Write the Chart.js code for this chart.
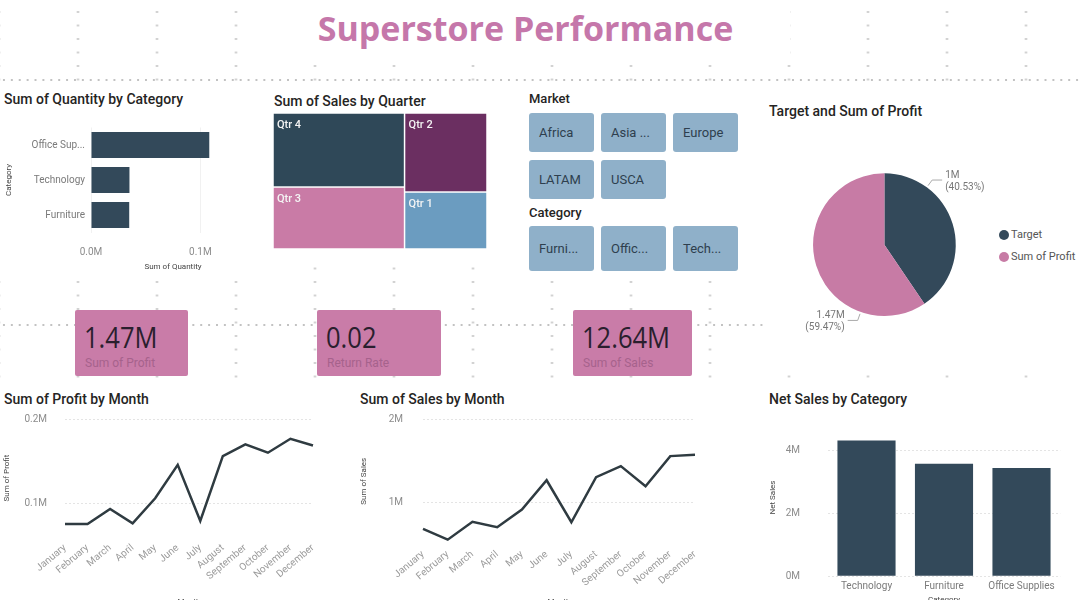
<!DOCTYPE html>
<html>
<head>
<meta charset="utf-8">
<script src="https://cdn.jsdelivr.net/npm/chart.js@4.4.1/dist/chart.umd.min.js"></script>
<style>
  html, body { margin: 0; padding: 0; }
  body { width: 1080px; height: 600px; overflow: hidden; position: relative; background: #fff; font-family: Roboto, sans-serif; }
  .dots { position: absolute; left: 0; top: 0; width: 1080px; height: 600px;
    background-image: radial-gradient(circle, #c2c2c2 0.8px, transparent 1.4px);
    background-size: 79px 13.5px; background-position: 38.5px 5.25px; }
  .dotrow { position: absolute; left: 0; width: 1080px; height: 6px;
    background-image: radial-gradient(circle, #c2c2c2 0.8px, transparent 1.4px);
    background-size: 7.9px 6px; }
  .panel { position: absolute; background: #fff; }
  .label { position: absolute; white-space: nowrap; }
  .vtitle { font-size: 14px; font-weight: 500; color: #252423; height: 18px; line-height: 18px; }
  .slicer { position: absolute; background: #8fb0c9; border-radius: 3px; color: #2e3f4e; font-size: 13px;
    box-sizing: border-box; padding: 0 0 0 10px; overflow: hidden; white-space: nowrap; }
  .card { position: absolute; background: #c97ca8; border-radius: 2px; }
  .card .val { position: absolute; left: 9px; top: 9px; font-family: 'Open Sans', sans-serif; font-size: 29px; color: #2a1f2e;
    line-height: 36px; transform: scaleX(0.88); transform-origin: left center; }
  .card .sub { position: absolute; left: 10px; top: 45px; font-size: 12px; color: #a6628c; line-height: 16px; }
  canvas { position: absolute; }
  .legdot { position: absolute; width: 10px; height: 10px; border-radius: 50%; }
</style>
</head>
<body>
<div class="dots"></div>
<div class="dotrow" style="top:77px"></div>
<div class="dotrow" style="top:322px"></div>

<div class="panel" style="left:250px;top:0;width:540px;height:60px"></div>
<div class="panel" style="left:0;top:86px;width:258px;height:192px"></div>
<div class="panel" style="left:265px;top:86px;width:228px;height:170px"></div>
<div class="panel" style="left:522px;top:86px;width:222px;height:192px"></div>
<div class="panel" style="left:768px;top:86px;width:312px;height:286px"></div>
<div class="panel" style="left:0;top:388px;width:325px;height:212px"></div>
<div class="panel" style="left:352px;top:388px;width:368px;height:212px"></div>
<div class="panel" style="left:768px;top:388px;width:312px;height:212px"></div>

<div class="label" style="left:0;top:8px;width:1051px;text-align:center;font-family:'Open Sans',sans-serif;font-weight:700;font-size:34px;line-height:40px;color:#c577aa">Superstore Performance</div>

<div class="label vtitle" style="left:4px;top:90px">Sum of Quantity by Category</div>
<div class="label vtitle" style="left:274px;top:92px">Sum of Sales by Quarter</div>
<div class="label vtitle" style="left:529px;top:90px;font-size:13px">Market</div>
<div class="label vtitle" style="left:529px;top:204px;font-size:13px">Category</div>
<div class="label vtitle" style="left:769px;top:102px">Target and Sum of Profit</div>
<div class="label vtitle" style="left:4px;top:390px">Sum of Profit by Month</div>
<div class="label vtitle" style="left:360px;top:390px">Sum of Sales by Month</div>
<div class="label vtitle" style="left:769px;top:390px">Net Sales by Category</div>

<div id="slicers"></div>
<div id="cards"></div>
<div id="pieLegend"></div>

<canvas id="qtyChart" width="260" height="165" style="left:0;top:115px"></canvas>
<canvas id="quarterChart" width="214" height="136" style="left:273px;top:113px"></canvas>
<canvas id="pieChart" width="240" height="210" style="left:764px;top:140px"></canvas>
<canvas id="profitChart" width="330" height="215" style="left:0;top:395px"></canvas>
<canvas id="salesChart" width="380" height="217" style="left:340px;top:393px"></canvas>
<canvas id="netChart" width="315" height="225" style="left:765px;top:385px"></canvas>

<script>
// DATA
const qtyCategories = ['Office Supplies', 'Technology', 'Furniture'];
const qtyValues = [108182, 35176, 34954];

const quarterLabels = ['Qtr 4', 'Qtr 3', 'Qtr 2', 'Qtr 1'];
const quarterSales = [4230000, 3540000, 2830000, 2040000];

const marketNames = ['Africa', 'Asia Pacific', 'Europe', 'LATAM', 'USCA'];
const categoryNames = ['Furniture', 'Office Supplies', 'Technology'];

const pieLabels = ['Target', 'Sum of Profit'];
const pieValues = [1000000, 1467457];

const kpiValues = ['1.47M', '0.02', '12.64M'];
const kpiLabels = ['Sum of Profit', 'Return Rate', 'Sum of Sales'];

const months = ['January', 'February', 'March', 'April', 'May', 'June', 'July',
  'August', 'September', 'October', 'November', 'December'];
const profitByMonth = [75400, 75400, 93200, 76200, 106000, 145600, 79000, 156000, 170000, 160000, 176500, 168600];
const salesByMonth = [676000, 546000, 761000, 696000, 910000, 1262000, 756000, 1300000, 1432000, 1190000, 1553000, 1569000];

const netCategories = ['Technology', 'Furniture', 'Office Supplies'];
const netSales = [4310000, 3570000, 3440000];

// COLORS
const DARK = '#33495a';
const PINK = '#c77ba5';
const LINE = '#2f3b41';
const quarterColors = ['#2f4858', '#c97ba6', '#6b2f61', '#6b9cc0'];
const GRID = '#e4e4e4';

Chart.defaults.font.family = 'Roboto, sans-serif';
Chart.defaults.color = '#8c8c8c';
Chart.defaults.animation = false;

// slicer buttons truncate like Power BI does
const measureCtx = document.createElement('canvas').getContext('2d');
measureCtx.font = '13px Roboto';
function fitText(t, maxW) {
  if (measureCtx.measureText(t).width <= maxW) return t;
  let s = t;
  while (s.length && measureCtx.measureText(s + '...').width > maxW) s = s.slice(0, -1);
  return s + '...';
}

const slicerBox = document.getElementById('slicers');
const slicerX = [529, 601, 673];
function addSlicer(text, left, top, h) {
  const d = document.createElement('div');
  d.className = 'slicer';
  d.textContent = fitText(text, 42);
  Object.assign(d.style, { left: left + 'px', top: top + 'px', width: '65px', height: h + 'px', lineHeight: h + 'px' });
  slicerBox.appendChild(d);
}
marketNames.forEach((m, i) => addSlicer(m, slicerX[i % 3], i < 3 ? 113 : 160, 39));
categoryNames.forEach((c, i) => addSlicer(c, slicerX[i], 226, 45));

const cardBox = document.getElementById('cards');
const cardPos = [[75, 113], [317, 124], [573, 119]];
kpiValues.forEach((v, i) => {
  const d = document.createElement('div');
  d.className = 'card';
  Object.assign(d.style, { left: cardPos[i][0] + 'px', top: '310px', width: cardPos[i][1] + 'px', height: '66px' });
  d.innerHTML = '<div class="val"></div><div class="sub"></div>';
  d.querySelector('.val').textContent = v;
  d.querySelector('.sub').textContent = kpiLabels[i];
  cardBox.appendChild(d);
});

const legBox = document.getElementById('pieLegend');
[DARK, PINK].forEach((c, i) => {
  const dot = document.createElement('div');
  dot.className = 'legdot';
  Object.assign(dot.style, { left: '999px', top: (230 + i * 22) + 'px', background: c });
  legBox.appendChild(dot);
  const t = document.createElement('div');
  t.className = 'label';
  t.textContent = pieLabels[i];
  Object.assign(t.style, { left: '1011px', top: (228 + i * 22) + 'px', fontSize: '11px', color: '#555', lineHeight: '14px' });
  legBox.appendChild(t);
});

// helpers
const fmtM = v => (Math.round(v / 1e6 * 100) / 100) + 'M';
const fixTicks = vals => scale => { scale.ticks = vals.map(v => ({ value: v })); };
const dashedGrid = { color: GRID, lineWidth: 1, drawTicks: false };
const axisTitleFont = { size: 8 };
const tickFont = { size: 10 };

// QUANTITY BY CATEGORY
new Chart(document.getElementById('qtyChart'), {
  type: 'bar',
  data: {
    labels: qtyCategories,
    datasets: [{ data: qtyValues, backgroundColor: DARK, barPercentage: 0.74, categoryPercentage: 1 }]
  },
  options: {
    indexAxis: 'y',
    responsive: false,
    layout: { padding: { top: 12.5, right: 5, left: 0, bottom: 0 } },
    plugins: { legend: { display: false }, tooltip: { enabled: false } },
    scales: {
      x: {
        min: 0, max: 150000,
        grid: { color: '#f1f1f1', drawTicks: false }, border: { display: false },
        afterBuildTicks: fixTicks([0, 100000]),
        ticks: { padding: 14, font: tickFont, callback: v => (v / 1e6).toFixed(1) + 'M' },
        title: { display: true, text: 'Sum of Quantity', color: '#444', font: axisTitleFont, padding: { top: 0, bottom: 8 } },
        afterFit: s => { s.height = 47.5; }
      },
      y: {
        grid: { display: false, drawTicks: false }, border: { display: false },
        ticks: { padding: 6, font: tickFont, color: '#7a7a7a',
          callback: function (v) { const l = this.getLabelForValue(v); return l.length > 12 ? l.slice(0, 10) + '...' : l; } },
        title: { display: true, text: 'Category', color: '#444', font: axisTitleFont, padding: { top: 4, bottom: 0 } },
        afterFit: s => { s.width = 91; }
      }
    }
  }
});

// SALES BY QUARTER (treemap cells laid out on linear 0..1 scales)
const treemapPlugin = {
  id: 'treemapCells',
  afterDatasetsDraw(chart) {
    const { ctx, scales: { x, y } } = chart;
    const total = quarterSales.reduce((a, b) => a + b, 0);
    let x0 = 0;
    ctx.save();
    for (let i = 0; i < quarterSales.length; i += 2) {
      const group = quarterSales.slice(i, i + 2);
      const gsum = group.reduce((a, b) => a + b, 0);
      const x1 = x0 + gsum / total;
      let y0 = 0;
      group.forEach((v, j) => {
        const y1 = y0 + v / gsum;
        const px0 = x.getPixelForValue(x0), px1 = x.getPixelForValue(x1);
        const py0 = y.getPixelForValue(y0), py1 = y.getPixelForValue(y1);
        ctx.fillStyle = quarterColors[i + j];
        ctx.fillRect(px0 + 0.75, py0 + 0.75, px1 - px0 - 1.5, py1 - py0 - 1.5);
        ctx.fillStyle = '#f4f4f4';
        ctx.font = '500 11px Roboto, sans-serif';
        ctx.textBaseline = 'middle';
        ctx.fillText(quarterLabels[i + j], px0 + 4, py0 + 12.5);
        y0 = y1;
      });
      x0 = x1;
    }
    ctx.restore();
  }
};
new Chart(document.getElementById('quarterChart'), {
  type: 'scatter',
  data: { datasets: [{ data: [] }] },
  options: {
    responsive: false,
    layout: { padding: 0 },
    plugins: { legend: { display: false }, tooltip: { enabled: false } },
    scales: {
      x: { type: 'linear', min: 0, max: 1, display: false },
      y: { type: 'linear', min: 0, max: 1, reverse: true, display: false }
    }
  },
  plugins: [treemapPlugin]
});

// TARGET AND SUM OF PROFIT
const pieLabelPlugin = {
  id: 'pieLabels',
  afterDatasetsDraw(chart) {
    const ctx = chart.ctx;
    const meta = chart.getDatasetMeta(0);
    const data = chart.data.datasets[0].data;
    const total = data.reduce((a, b) => a + b, 0);
    ctx.save();
    meta.data.forEach((arc, i) => {
      const { x, y, startAngle, endAngle, outerRadius } = arc.getProps(['x', 'y', 'startAngle', 'endAngle', 'outerRadius'], true);
      const a = startAngle + (endAngle - startAngle) * 0.25;
      const p1x = x + Math.cos(a) * (outerRadius + 2), p1y = y + Math.sin(a) * (outerRadius + 2);
      const p2x = x + Math.cos(a) * (outerRadius + 9), p2y = y + Math.sin(a) * (outerRadius + 9);
      const dir = Math.cos(a) >= 0 ? 1 : -1;
      const p3x = p2x + dir * 10;
      ctx.strokeStyle = '#aaa';
      ctx.lineWidth = 1;
      ctx.beginPath();
      ctx.moveTo(p1x, p1y); ctx.lineTo(p2x, p2y); ctx.lineTo(p3x, p2y);
      ctx.stroke();
      ctx.fillStyle = '#777';
      ctx.font = '10px Roboto, sans-serif';
      ctx.textAlign = dir > 0 ? 'left' : 'right';
      ctx.textBaseline = 'middle';
      ctx.fillText(fmtM(data[i]), p3x + dir * 3, p2y - 5);
      ctx.fillText('(' + (data[i] / total * 100).toFixed(2) + '%)', p3x + dir * 3, p2y + 7);
    });
    ctx.restore();
  }
};
new Chart(document.getElementById('pieChart'), {
  type: 'pie',
  data: { labels: pieLabels, datasets: [{ data: pieValues, backgroundColor: [DARK, PINK], borderWidth: 0 }] },
  options: {
    responsive: false,
    layout: { padding: { left: 48.8, right: 48, top: 33.3, bottom: 34 } },
    plugins: { legend: { display: false }, tooltip: { enabled: false } }
  },
  plugins: [pieLabelPlugin]
});

// LINE CHARTS (top padding comes from the y tick padding + half a label)
function lineChart(id, values, opts) {
  return new Chart(document.getElementById(id), {
    type: 'line',
    data: { labels: months, datasets: [{ data: values, borderColor: LINE, borderWidth: 2.5, pointRadius: 0, tension: 0 }] },
    options: {
      responsive: false,
      layout: { padding: { top: 0, right: opts.right, left: 0, bottom: 0 } },
      plugins: { legend: { display: false }, tooltip: { enabled: false } },
      scales: {
        x: {
          offset: false, grid: { display: false, drawTicks: false }, border: { display: false },
          ticks: { minRotation: 40, maxRotation: 40, autoSkip: false, padding: 5, color: '#9a9a9a', font: tickFont },
          title: { display: true, text: 'Month', color: '#444', font: axisTitleFont, padding: { top: 0, bottom: 3 } },
          afterFit: s => { s.height = opts.xh; }
        },
        y: {
          min: opts.min, max: opts.max,
          grid: dashedGrid, border: { display: false, dash: [2, 2] },
          afterBuildTicks: fixTicks(opts.ticks),
          ticks: { padding: opts.tickPad, font: tickFont, color: '#8c8c8c', callback: opts.fmt },
          title: { display: true, text: opts.title, color: '#444', font: axisTitleFont, padding: { top: opts.titlePad, bottom: 0 } },
          afterFit: s => { s.width = opts.yw; }
        }
      }
    }
  });
}

lineChart('profitChart', profitByMonth, {
  right: 17, xh: 73, min: 60000, max: 200000, ticks: [100000, 200000],
  fmt: v => (v / 1e6).toFixed(1) + 'M', tickPad: 18, title: 'Sum of Profit', titlePad: 2, yw: 65
});
lineChart('salesChart', salesByMonth, {
  right: 25, xh: 66.5, min: 500000, max: 2000000, ticks: [1000000, 2000000],
  fmt: v => (v / 1e6) + 'M', tickPad: 20, title: 'Sum of Sales', titlePad: 19.5, yw: 83
});

// NET SALES BY CATEGORY
new Chart(document.getElementById('netChart'), {
  type: 'bar',
  data: {
    labels: netCategories,
    datasets: [{ data: netSales, backgroundColor: DARK, barPercentage: 0.75, categoryPercentage: 1 }]
  },
  options: {
    responsive: false,
    layout: { padding: { top: 0, right: 19.75, left: 0, bottom: 0 } },
    plugins: { legend: { display: false }, tooltip: { enabled: false } },
    scales: {
      x: {
        grid: { display: false, drawTicks: false }, border: { display: false },
        ticks: { padding: 4, font: tickFont, color: '#7a7a7a' },
        title: { display: true, text: 'Category', color: '#444', font: axisTitleFont, padding: { top: 0, bottom: 4 } },
        afterFit: s => { s.height = 32.7; }
      },
      y: {
        min: 0, max: 5000000,
        grid: dashedGrid, border: { display: false, dash: [2, 2] },
        afterBuildTicks: fixTicks([0, 2000000, 4000000]),
        ticks: { padding: 27.75, font: tickFont, color: '#8c8c8c', callback: v => (v / 1e6) + 'M' },
        title: { display: true, text: 'Net Sales', color: '#444', font: axisTitleFont, padding: { top: 3, bottom: 0 } },
        afterFit: s => { s.width = 62.75; }
      }
    }
  }
});
</script>
</body>
</html>
